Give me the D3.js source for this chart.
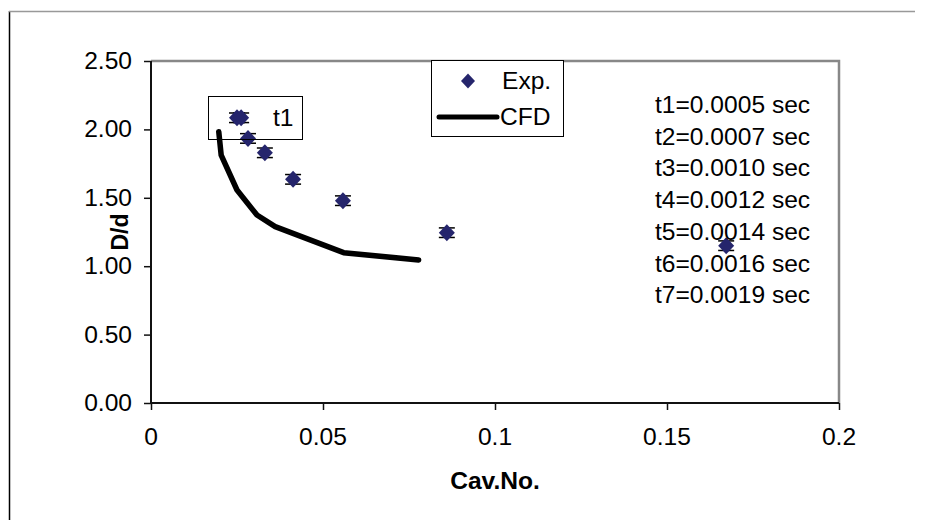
<!DOCTYPE html>
<html>
<head>
<meta charset="utf-8">
<script src="https://cdn.jsdelivr.net/npm/d3@7"></script>
<style>
body { margin: 0; background: #fff; }
text { font-family: "Liberation Sans", Arial, sans-serif; fill: #000; }
</style>
</head>
<body>
<div id="chart"></div>
<script>
var expCav = [0.0250, 0.0262, 0.0282, 0.0331, 0.0413, 0.0558, 0.0860, 0.1672];
var expD = [2.085, 2.085, 1.934, 1.829, 1.635, 1.479, 1.245, 1.150];
var expErr = 0.035;
var cfdCav = [0.0197, 0.0204, 0.0250, 0.0308, 0.0361, 0.0560, 0.0778];
var cfdD = [1.983, 1.812, 1.557, 1.374, 1.289, 1.099, 1.046];
var xTicks = [0, 0.05, 0.1, 0.15, 0.2];
var xTickLabels = ["0", "0.05", "0.1", "0.15", "0.2"];
var yTicks = [0, 0.5, 1, 1.5, 2, 2.5];
var timeLabels = ["t1=0.0005 sec", "t2=0.0007 sec", "t3=0.0010 sec", "t4=0.0012 sec",
	"t5=0.0014 sec", "t6=0.0016 sec", "t7=0.0019 sec"];

var width = 926, height = 520;
var plotLeft = 151, plotRight = 839, plotTop = 61, plotBottom = 403;
var fontSize = 23, stretch = 1.07;
var markerColor = "#25256c";

var svg = d3.select("#chart").append("svg")
	.attr("width", width)
	.attr("height", height);

var x = d3.scaleLinear().domain([0, 0.2]).range([plotLeft, plotRight]);
var y = d3.scaleLinear().domain([0, 2.5]).range([plotBottom, plotTop]);

// text that is a bit wider than plain Arial, like the source
function wideText(g, tx, ty, str, anchor, bold)
{
	return g.append("text")
		.attr("transform", "translate(" + tx + "," + ty + ") scale(" + stretch + ",1)")
		.attr("text-anchor", anchor)
		.style("font-size", fontSize + "px")
		.style("font-weight", bold ? "bold" : "normal")
		.text(str);
}

// outer chart frame
svg.append("line").attr("x1", 9.5).attr("y1", 11).attr("x2", 9.5).attr("y2", height)
	.attr("stroke", "#000").attr("stroke-width", 1.5);
svg.append("line").attr("x1", 9).attr("y1", 11.5).attr("x2", 915).attr("y2", 11.5)
	.attr("stroke", "#999").attr("stroke-width", 1.5);

// plot border (top + right grey)
svg.append("path")
	.attr("d", "M" + plotLeft + "," + plotTop + "H" + plotRight + "V" + plotBottom)
	.attr("fill", "none").attr("stroke", "#888").attr("stroke-width", 2.5);

// axes
var xAxis = d3.axisBottom(x).tickValues(xTicks).tickSize(7).tickFormat(function (d) { return ""; });
var yAxis = d3.axisLeft(y).tickValues(yTicks).tickSize(7).tickFormat(function (d) { return ""; });

var gx = svg.append("g").attr("transform", "translate(0," + plotBottom + ")").call(xAxis);
var gy = svg.append("g").attr("transform", "translate(" + plotLeft + ",0)").call(yAxis);
[gx, gy].forEach(function (g) {
	g.select(".domain").attr("stroke", "#111").attr("stroke-width", 2);
	g.selectAll(".tick line").attr("stroke", "#111").attr("stroke-width", 1.5);
});
gx.select(".domain").attr("d", "M" + plotLeft + ",0H" + plotRight);
gy.select(".domain").attr("d", "M0," + plotTop + "V" + plotBottom);

xTicks.forEach(function (t, i) {
	wideText(svg, x(t), 445, xTickLabels[i], "middle", false);
});
yTicks.forEach(function (t) {
	wideText(svg, 132, y(t) + 8, d3.format(".2f")(t), "end", false);
});

// axis titles
wideText(svg, x(0.1), 489, "Cav.No.", "middle", true);
svg.append("text")
	.attr("transform", "translate(128," + y(1.25) + ") rotate(-90)")
	.attr("text-anchor", "middle")
	.style("font-size", fontSize + "px")
	.style("font-weight", "bold")
	.text("D/d");

// CFD line
var line = d3.line()
	.x(function (d) { return x(d[0]); })
	.y(function (d) { return y(d[1]); });
svg.append("path")
	.datum(d3.zip(cfdCav, cfdD))
	.attr("d", line)
	.attr("fill", "none")
	.attr("stroke", "#000")
	.attr("stroke-width", 5.5)
	.attr("stroke-linejoin", "round")
	.attr("stroke-linecap", "round");

// experimental points with error bars
var expData = d3.zip(expCav, expD);
var errG = svg.append("g");
expData.forEach(function (d) {
	var cx = x(d[0]);
	[d[1] - expErr, d[1] + expErr].forEach(function (v) {
		errG.append("line")
			.attr("x1", cx - 8).attr("x2", cx + 8)
			.attr("y1", y(v)).attr("y2", y(v))
			.attr("stroke", "#000").attr("stroke-width", 1.5);
	});
});

var diamond = "M0,-8.5L8,0L0,8.5L-8,0Z";
svg.append("g").selectAll("path")
	.data(expData)
	.enter()
	.append("path")
	.attr("d", diamond)
	.attr("transform", function (d) { return "translate(" + x(d[0]) + "," + y(d[1]) + ")"; })
	.attr("fill", markerColor);

// t1 label box
svg.append("rect")
	.attr("x", 208.5).attr("y", 96.5).attr("width", 94).attr("height", 43)
	.attr("fill", "none").attr("stroke", "#000").attr("stroke-width", 1);
wideText(svg, 273, 126, "t1", "start", false);

// legend
var legend = svg.append("g");
legend.append("rect")
	.attr("x", 431.5).attr("y", 60.5).attr("width", 132).attr("height", 76)
	.attr("fill", "#fff").attr("stroke", "#000").attr("stroke-width", 1);
legend.append("path")
	.attr("d", "M0,-7.5L7,0L0,7.5L-7,0Z")
	.attr("transform", "translate(468,81)")
	.attr("fill", markerColor);
wideText(legend, 502, 89, "Exp.", "start", false);
legend.append("line")
	.attr("x1", 439).attr("x2", 497).attr("y1", 117).attr("y2", 117)
	.attr("stroke", "#000").attr("stroke-width", 5).attr("stroke-linecap", "round");
wideText(legend, 500, 125, "CFD", "start", false);

// time annotations
timeLabels.forEach(function (s, i) {
	wideText(svg, 655, 113 + i * 31.7, s, "start", false);
});
</script>
</body>
</html>
